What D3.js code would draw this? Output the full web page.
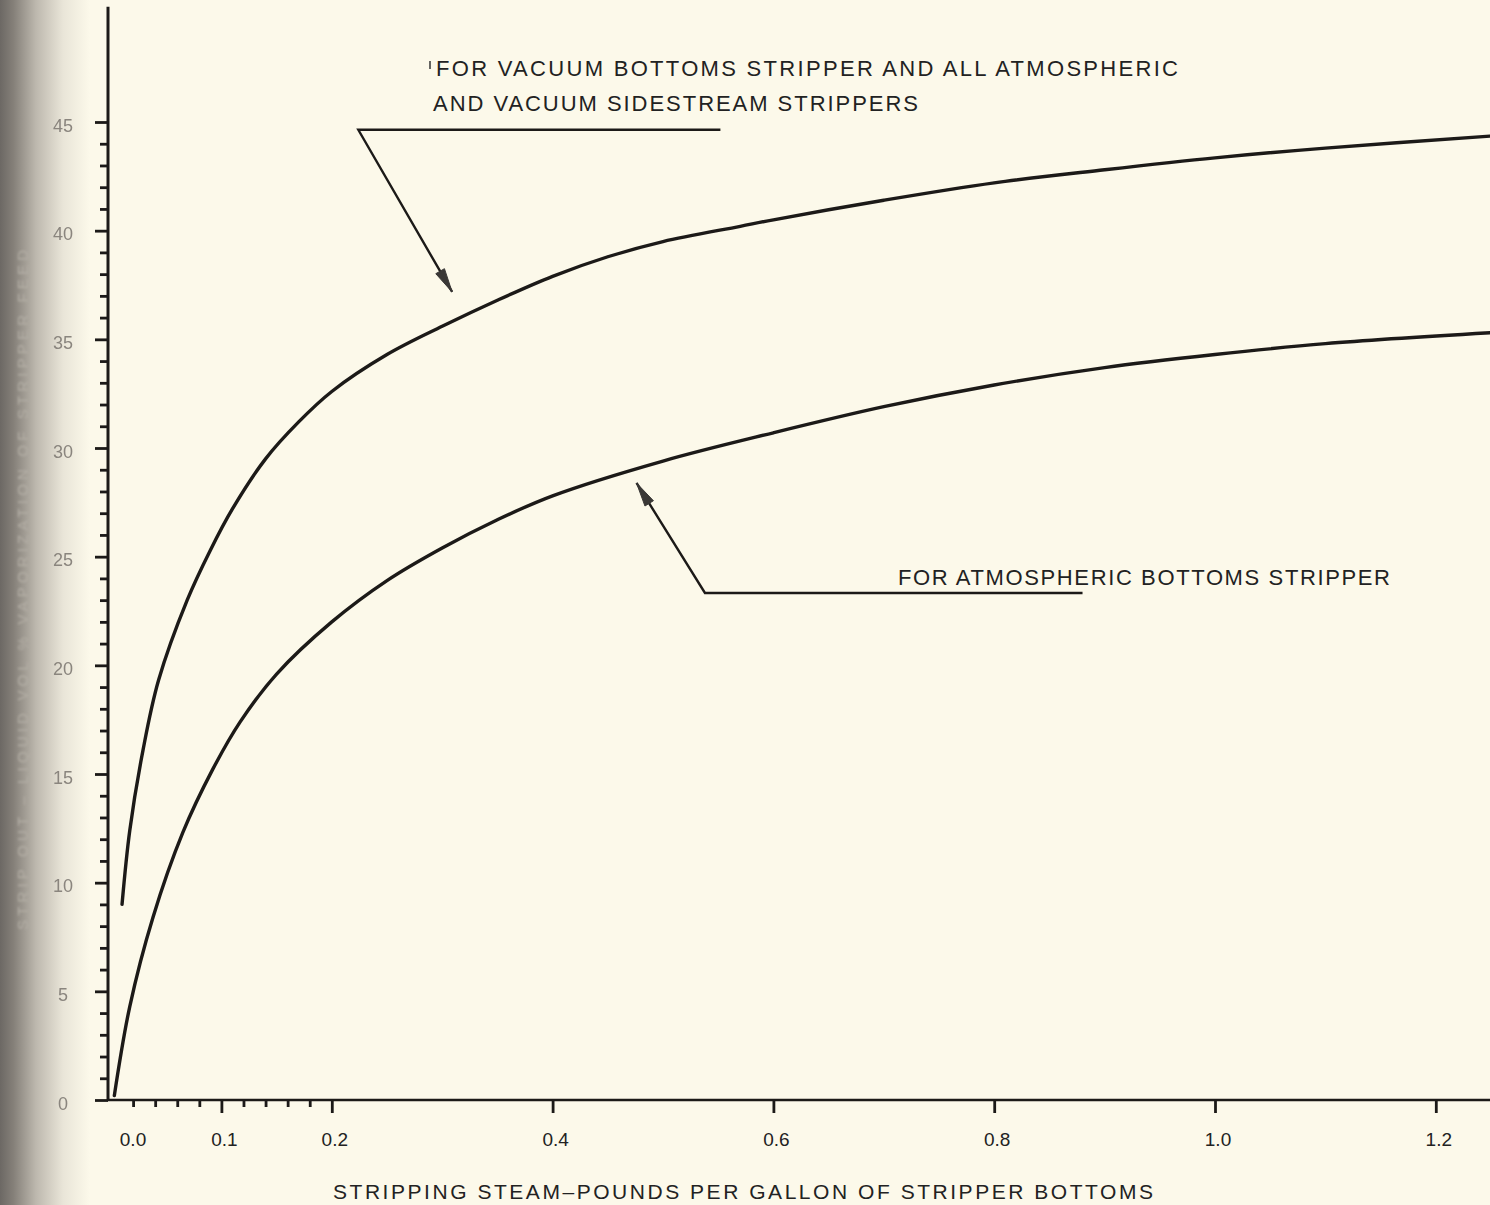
<!DOCTYPE html>
<html>
<head>
<meta charset="utf-8">
<script src="https://cdn.jsdelivr.net/npm/d3@7"></script>
<style>
  html, body { margin: 0; padding: 0; background: #fcf9ea; }
  svg { display: block; }
  text { font-family: "Liberation Sans", Arial, sans-serif; }
</style>
</head>
<body>
<div class="svg-container"></div>
<script>
// ---- data ----
const vacuumX = [0.010, 0.017, 0.029, 0.043, 0.069, 0.09, 0.11, 0.14, 0.17, 0.2, 0.25, 0.3, 0.35, 0.4, 0.45, 0.5, 0.57, 0.6, 0.7, 0.8, 0.9, 1.0, 1.1, 1.249];
const vacuumY = [9.0, 12.4, 16.1, 19.3, 23.0, 25.3, 27.2, 29.5, 31.2, 32.6, 34.3, 35.6, 36.8, 37.9, 38.8, 39.5, 40.2, 40.5, 41.4, 42.2, 42.8, 43.35, 43.8, 44.35];

const atmX = [0.003, 0.017, 0.038, 0.065, 0.092, 0.117, 0.15, 0.2, 0.25, 0.3, 0.35, 0.4, 0.5, 0.6, 0.7, 0.8, 0.9, 1.0, 1.1, 1.249];
const atmY = [0.2, 4.3, 8.4, 12.3, 15.2, 17.4, 19.6, 22.0, 23.9, 25.4, 26.7, 27.8, 29.4, 30.7, 31.9, 32.9, 33.7, 34.3, 34.8, 35.3];

const xMajorTicks = [0, 0.1, 0.2, 0.4, 0.6, 0.8, 1.0, 1.2];
const xTickLabels = ['0.0', '0.1', '0.2', '0.4', '0.6', '0.8', '1.0', '1.2'];
const xMinorTicks = [0.02, 0.04, 0.06, 0.08, 0.12, 0.14, 0.16, 0.18];
const yMajorTicks = [0, 5, 10, 15, 20, 25, 30, 35, 40, 45];
const yMinorTicks = d3.range(1, 45).filter(v => v % 5 !== 0);

const upperNote = ['FOR VACUUM BOTTOMS STRIPPER AND ALL ATMOSPHERIC', 'AND VACUUM SIDESTREAM STRIPPERS'];
const lowerNote = 'FOR ATMOSPHERIC BOTTOMS STRIPPER';
const xTitle = 'STRIPPING STEAM\u2013POUNDS PER GALLON OF STRIPPER BOTTOMS';
const yTitle = 'STRIP OUT \u2013 LIQUID VOL % VAPORIZATION OF STRIPPER FEED';

// leader lines: [knee, end of shelf, arrow tip] in data units
const upperLeader = {knee: [0.224, 44.64], end: [0.552, 44.64], tip: [0.309, 37.18]};
const lowerLeader = {knee: [0.538, 23.33], end: [0.880, 23.33], tip: [0.476, 28.39]};

// ---- setup ----
const W = 1490, H = 1205;
const ink = '#1c1a18';

const svg = d3.select('.svg-container').append('svg')
    .attr('width', W)
    .attr('height', H);

const defs = svg.append('defs');
const grad = defs.append('linearGradient').attr('id', 'spine')
    .attr('x1', 0).attr('x2', 1).attr('y1', 0).attr('y2', 0);
[[0, '#6c6864'], [0.15, '#858079'], [0.4, '#bdb8ae'], [0.7, '#e9e5d8'], [1, '#fcf9ea']].forEach(s => {
    grad.append('stop').attr('offset', s[0]).attr('stop-color', s[1]);
});
defs.append('filter').attr('id', 'soft')
    .append('feGaussianBlur').attr('stdDeviation', 0.7);
defs.append('filter').attr('id', 'softer')
    .append('feGaussianBlur').attr('stdDeviation', 1.1);

svg.append('rect').attr('width', W).attr('height', H).attr('fill', '#fcf9ea');
svg.append('rect').attr('width', 90).attr('height', H).attr('fill', 'url(#spine)');

const x = d3.scaleLinear().domain([0, 1.25]).range([111, 1491]);
const y = d3.scaleLinear().domain([0, 45]).range([1100, 122]);

// ---- axes ----
const yAxisX = 108;
const xAxisY = y(0);

// y axis line
svg.append('line')
    .attr('x1', yAxisX).attr('x2', yAxisX)
    .attr('y1', y(50.3)).attr('y2', xAxisY + 1)
    .attr('stroke', ink).attr('stroke-width', 3);
// x axis line
svg.append('line')
    .attr('x1', yAxisX - 1).attr('x2', W)
    .attr('y1', xAxisY).attr('y2', xAxisY)
    .attr('stroke', ink).attr('stroke-width', 2.6);

function styleAxis(g) {
    g.select('.domain').remove();
    g.selectAll('.tick line').attr('stroke', ink).attr('stroke-width', 2.8);
}

// y ticks
svg.append('g')
    .attr('transform', `translate(${yAxisX},0)`)
    .call(d3.axisLeft(y).tickValues(yMinorTicks).tickSize(8).tickFormat(''))
    .call(styleAxis);

const yMajor = svg.append('g')
    .attr('transform', `translate(${yAxisX},0)`)
    .call(d3.axisLeft(y).tickValues(yMajorTicks).tickSize(13).tickFormat(d3.format('d')))
    .call(styleAxis);
yMajor.selectAll('.tick text')
    .attr('x', -45)
    .attr('dy', '0.5em')
    .attr('text-anchor', 'middle')
    .attr('font-size', 18)
    .attr('fill', '#8a857e')
    .attr('filter', 'url(#soft)');

// x ticks
svg.append('g')
    .attr('transform', `translate(0,${xAxisY})`)
    .call(d3.axisBottom(x).tickValues(xMinorTicks).tickSize(7).tickFormat(''))
    .call(styleAxis);

svg.append('g')
    .attr('transform', `translate(0,${xAxisY})`)
    .call(d3.axisBottom(x).tickValues(xMajorTicks.slice(1)).tickSize(13).tickFormat(''))
    .call(styleAxis);

svg.append('g').selectAll('text')
    .data(xMajorTicks)
    .join('text')
    .attr('x', (d, i) => x(d) + (i === 0 ? 22 : 3))
    .attr('y', xAxisY + 46)
    .attr('text-anchor', 'middle')
    .attr('font-size', 19)
    .attr('fill', '#222')
    .text((d, i) => xTickLabels[i]);

// ---- curves ----
const line = d3.line()
    .x(d => x(d[0]))
    .y(d => y(d[1]))
    .curve(d3.curveCatmullRom.alpha(0.5));

svg.append('path')
    .datum(vacuumX.map((v, i) => [v, vacuumY[i]]))
    .attr('d', line)
    .attr('fill', 'none')
    .attr('stroke', ink)
    .attr('stroke-width', 3.4)
    .attr('stroke-linecap', 'round');

svg.append('path')
    .datum(atmX.map((v, i) => [v, atmY[i]]))
    .attr('d', line)
    .attr('fill', 'none')
    .attr('stroke', ink)
    .attr('stroke-width', 3.4)
    .attr('stroke-linecap', 'round');

// ---- leaders with arrows ----
function renderLeader(parent, leader) {
    const k = [x(leader.knee[0]), y(leader.knee[1])];
    const e = [x(leader.end[0]), y(leader.end[1])];
    const t = [x(leader.tip[0]), y(leader.tip[1])];
    parent.append('path')
        .attr('d', `M${e[0]},${e[1]}L${k[0]},${k[1]}L${t[0]},${t[1]}`)
        .attr('fill', 'none')
        .attr('stroke', ink)
        .attr('stroke-width', 2.4);
    // arrowhead
    const ang = Math.atan2(t[1] - k[1], t[0] - k[0]);
    const len = 24, half = 5;
    const bx = t[0] - len * Math.cos(ang), by = t[1] - len * Math.sin(ang);
    const px = -Math.sin(ang) * half, py = Math.cos(ang) * half;
    parent.append('path')
        .attr('d', `M${t[0]},${t[1]}L${bx + px},${by + py}L${bx - px},${by - py}Z`)
        .attr('fill', '#3a3836')
        .attr('stroke', '#3a3836')
        .attr('stroke-width', 1);
}

renderLeader(svg, upperLeader);
renderLeader(svg, lowerLeader);

// ---- text ----
function renderLabel(parent, px, py, text, size, width, params = {}) {
    return parent.append('text')
        .attr('x', px)
        .attr('y', py)
        .attr('font-size', size)
        .attr('fill', params.fill || '#222')
        .attr('textLength', width)
        .attr('lengthAdjust', 'spacing')
        .text(text);
}

renderLabel(svg, 436, 76, upperNote[0], 22, 742);
svg.append('line').attr('x1', 430).attr('x2', 430).attr('y1', 61).attr('y2', 69)
    .attr('stroke', '#333').attr('stroke-width', 1.5);
renderLabel(svg, 433, 111, upperNote[1], 22, 485);
renderLabel(svg, 898, 585, lowerNote, 22, 492);
renderLabel(svg, 333, 1199, xTitle, 21, 820);

// faint y title on the curved page
svg.append('text')
    .attr('transform', 'translate(28,590) rotate(-90)')
    .attr('text-anchor', 'middle')
    .attr('font-size', 15)
    .attr('fill', '#b3aea5')
    .attr('filter', 'url(#softer)')
    .attr('textLength', 680)
    .attr('lengthAdjust', 'spacing')
    .text(yTitle);
</script>
</body>
</html>
